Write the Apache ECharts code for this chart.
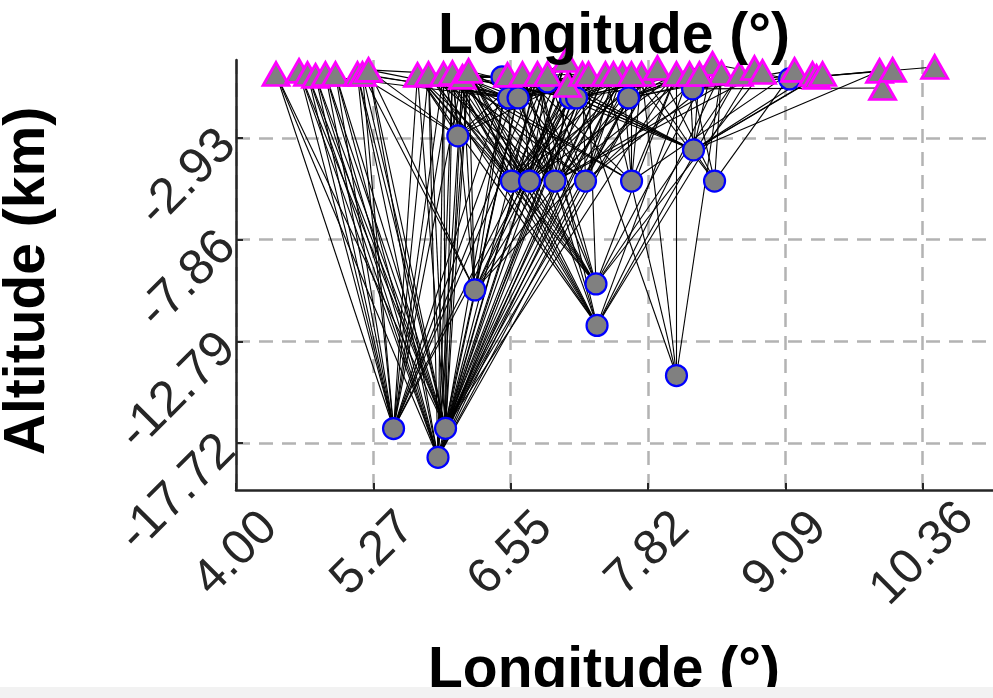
<!DOCTYPE html>
<html>
<head>
<meta charset="utf-8">
<script src="https://cdn.jsdelivr.net/npm/echarts@6/dist/echarts.min.js"></script>
<style>
html,body{margin:0;padding:0;background:#fff;}
#chart{width:993px;height:698px;}
</style>
</head>
<body>
<div id="chart"></div>
<script>
// Stations (triangles)
const stationLon = [4.371,4.584,4.663,4.737,4.829,4.922,5.126,5.172,5.228,5.682,5.784,5.923,6.006,6.099,6.155,6.516,6.655,6.794,6.887,7.058,7.072,7.211,7.267,7.424,7.582,7.758,7.906,8.082,8.203,8.416,8.500,8.666,8.805,8.879,9.176,9.343,9.380,9.436,9.964,9.992,10.085,10.475,7.498,7.665,8.295];
const stationAlt = [0.17,0.32,0.17,0.08,0.17,0.17,0.17,0.17,0.37,0.13,0.17,0.17,0.22,0.03,0.32,0.13,0.17,0.17,0.17,0.85,-0.36,0.17,0.17,0.17,0.17,0.17,0.46,0.17,0.17,0.66,0.22,0.17,0.46,0.27,0.37,0.17,0.03,0.17,0.32,-0.51,0.37,0.51,0.17,0.17,0.17];
// Events (circles)
const eventLon = [6.465,6.526,6.614,6.887,7.100,7.156,7.638,8.231,9.130,6.056,8.240,6.553,6.720,6.956,7.239,7.666,8.435,6.213,7.336,7.346,8.082,5.460,5.942,5.872];
const eventAlt = [0.03,-0.99,-0.99,-0.21,-0.99,-0.99,-0.99,-0.55,-0.07,-2.83,-3.51,-5.02,-5.02,-5.02,-5.02,-5.02,-5.02,-10.30,-10.01,-12.02,-14.45,-17.02,-17.01,-18.42];
// Ray connections: for each event, the station indices it links to
const eventStations = [
  [15,16,9,8,21,13,18],
  [8,7,10,15,16,17,22,11,2,13,19,24],
  [9,12,14,18,23,25,6,20,21,27],
  [16,18,21,24,19,22],
  [11,13,15,20,22,24,26,28,12,17,42],
  [14,19,21,23,25,27,30,16,29],
  [24,25,26,28,29,31,33,43,22,27,44],
  [27,28,29,30,32,34,39,25,31,33,37],
  [31,34,36,38,40,41,29,35],
  [6,8,11,12,16,21,9,14,19],
  [15,16,17,18,28,35,36,37,38,44,16,17,29],
  [10,12,14,17,21,22,24,26,9,15,19,23],
  [9,11,13,16,19,23,25,27,43,14,18,21],
  [12,14,15,20,22,28,31,33,10,17,24,26],
  [13,15,18,21,24,29,42,11,16,25,30],
  [24,25,11,16,27,34,12,43],
  [25,28,30,34,26,43],
  [7,8,12,13,20,25,27,14,15,16,21,23],
  [11,12,13,14,15,22,33,29,16,9,10,17,27,31],
  [11,12,13,14,15,17,30,31,16,9,10,28,32],
  [27,19,23,30,25],
  [0,1,2,4,9,10,12,15,17,21,3,5,6,7,11,13,16,18,20],
  [0,1,3,5,6,7,11,13,15,16,17,18,19,20,21,22,23,24,25,42,26,27,43,12,14,9,10,4,2,8],
  [0,2,4,8,10,12,14,18,21,23,26,16,19,22,24,25,6,11,13,1,3,5]
];
const xMin = 4.00, xStep = 14/11;
const yTickValues = [-17.72, -12.79, -7.86, -2.93];
const titleText = 'Longitude (°)';
const yTitleText = 'Altitude (km)';

const rays = [];
eventStations.forEach((list, e) => {
  list.forEach(s => {
    rays.push({coords: [[eventLon[e], eventAlt[e]], [stationLon[s], stationAlt[s]]]});
  });
});
const eventPts = eventLon.map((v, i) => [v, eventAlt[i]]);
const stationPts = stationLon.map((v, i) => [v, stationAlt[i]]);

const axisColor = '#262626';
const font = "'Liberation Sans', Arial, Helvetica, sans-serif";
const splitStyle = {show: true, lineStyle: {type: [14, 9], color: '#b3b3b3', width: 2.5}};

const chart = echarts.init(document.getElementById('chart'), null, {renderer: 'canvas'});
chart.setOption({
  animation: false,
  backgroundColor: '#ffffff',
  grid: {left: 236, top: 60, width: 824, height: 430, containLabel: false, outerBoundsMode: 'none'},
  xAxis: {
    type: 'value', min: xMin, max: xMin + 6 * xStep, interval: xStep,
    axisLine: {show: true, onZero: false, lineStyle: {color: axisColor, width: 2.5}},
    axisTick: {show: true, inside: true, length: 7, lineStyle: {color: axisColor, width: 2}},
    axisLabel: {
      rotate: 45, align: 'center', verticalAlign: 'middle', margin: 64,
      fontSize: 49, color: axisColor, fontFamily: font,
      formatter: v => v.toFixed(2)
    },
    splitLine: splitStyle
  },
  yAxis: {
    type: 'value', min: -20, max: 0.85,
    axisLine: {show: true, onZero: false, lineStyle: {color: axisColor, width: 2.5}},
    axisTick: {show: true, inside: true, length: 7, customValues: yTickValues, lineStyle: {color: axisColor, width: 2}},
    axisLabel: {
      rotate: 45, margin: 8, customValues: yTickValues,
      fontSize: 50, color: axisColor, fontFamily: font,
      formatter: v => v.toFixed(2)
    },
    splitLine: splitStyle
  },
  series: [
    {
      type: 'lines', coordinateSystem: 'cartesian2d', data: rays, silent: true,
      lineStyle: {color: '#000000', width: 1.1, opacity: 1}, z: 2
    },
    {
      type: 'scatter', data: eventPts, symbol: 'circle', symbolSize: 21, clip: false, silent: true,
      itemStyle: {color: '#808080', borderColor: '#0000ff', borderWidth: 2.2, opacity: 1}, z: 3
    },
    {
      type: 'scatter', data: stationPts, symbol: 'triangle', symbolSize: [26, 23], clip: false, silent: true,
      itemStyle: {color: '#808080', borderColor: '#ff00ff', borderWidth: 2.8, opacity: 1}, z: 4
    }
  ],
  graphic: [
    {type: 'text', x: 614, y: 37, z: 10, style: {text: titleText, align: 'center', verticalAlign: 'middle', fill: '#000', font: "bold 57px " + font}},
    {type: 'text', x: 604, y: 671, z: 10, style: {text: titleText, align: 'center', verticalAlign: 'middle', fill: '#000', font: "bold 57px " + font}},
    {type: 'text', x: 28, y: 281, rotation: Math.PI / 2, z: 10, style: {text: yTitleText, align: 'center', verticalAlign: 'middle', fill: '#000', font: "bold 57px " + font}},
    {type: 'rect', shape: {x: 0, y: 687, width: 993, height: 11}, z: 20, style: {fill: '#f2f2f2'}}
  ]
});
</script>
</body>
</html>
